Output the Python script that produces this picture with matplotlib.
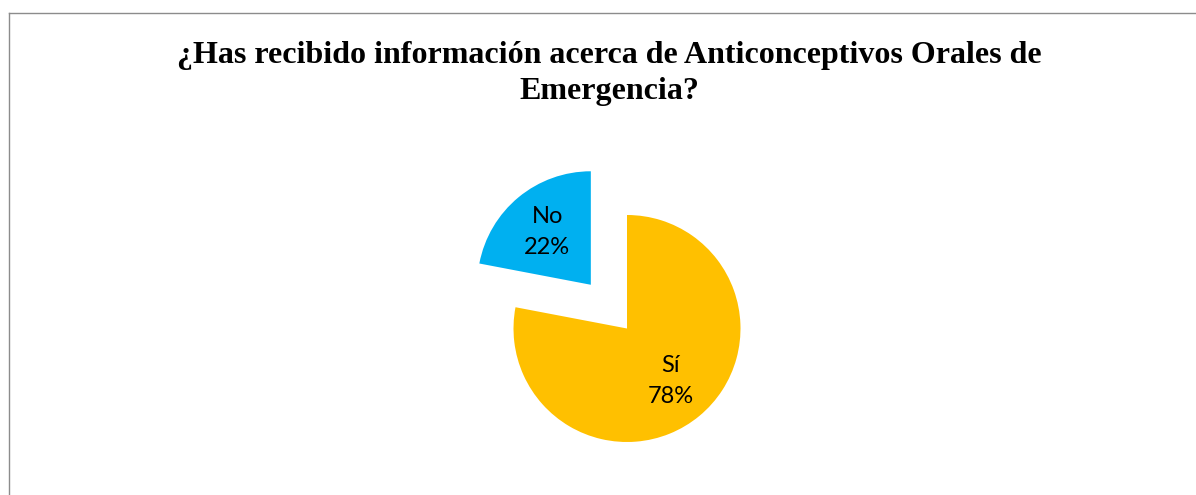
import matplotlib
matplotlib.use("Agg")
import matplotlib.pyplot as plt
from matplotlib.lines import Line2D

# survey answers (percent)
categories = ["Sí", "No"]
values = [78, 22]
colors = ["#FFC000", "#00B0F0"]
explode = [0, 0.5]

title = "¿Has recibido información acerca de Anticonceptivos Orales de\nEmergencia?"

W, H = 1196, 495
fig = plt.figure(figsize=(W / 100, H / 100), dpi=100)

# pie axis: full figure, 1 data unit == pie radius in pixels
cx, cy, r = 627, 328.5, 113.5
ax = fig.add_axes([0, 0, 1, 1])
wedges, texts = ax.pie(values, labels=[f"{c}\n{v}%" for c, v in zip(categories, values)],
                       colors=colors, explode=explode, startangle=90, counterclock=False,
                       labeldistance=0.6, radius=1,
                       textprops=dict(fontsize=17, family="Lato", ha="center", va="center",
                                      linespacing=1.6))
ax.set_xlim(-cx / r, (W - cx) / r)
ax.set_ylim(-(H - cy) / r, cy / r)
ax.set_aspect("auto")
ax.axis("off")

fig.text(609 / W, 1 - 41 / H, title, ha="center", va="top", family="Liberation Serif",
         fontweight="bold", fontsize=23, linespacing=1.33)

# chart frame (only top and left edges visible in the crop)
fig.add_artist(Line2D([9 / W, 1], [1 - 13 / H, 1 - 13 / H], color="#8c8c8c", lw=1.0))
fig.add_artist(Line2D([9 / W, 9 / W], [0, 1 - 13 / H], color="#8c8c8c", lw=1.0))

fig.savefig("out.png", dpi=100, facecolor="white")
